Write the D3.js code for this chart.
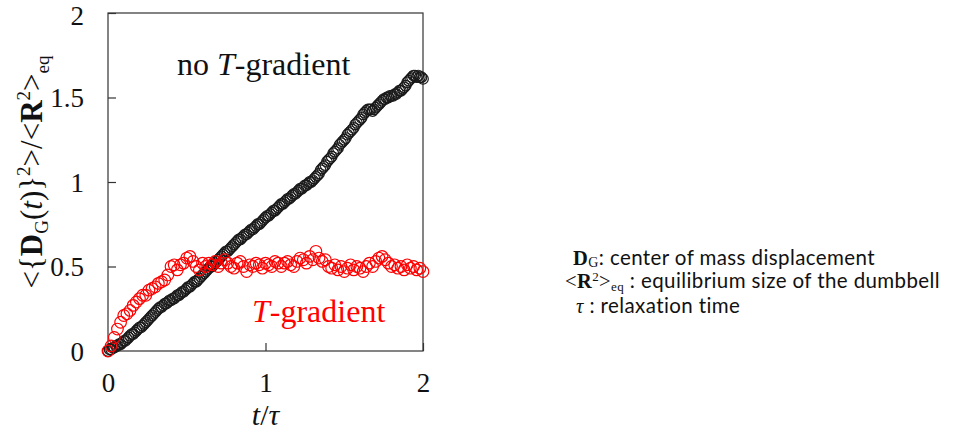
<!DOCTYPE html>
<html>
<head>
<meta charset="utf-8">
<script src="https://cdn.jsdelivr.net/npm/d3@7"></script>
<style>
  body { margin: 0; background: #fff; }
  svg { display: block; }
</style>
</head>
<body>
<svg id="chart"></svg>
<script>
// t/tau sampling: black every 0.01, red every 0.02
const blackStep = 0.01;
const redStep = 0.02;

// no T-gradient, <{DG(t)}^2>/<R^2>eq
const noGradient = [
  0.00, 0.01, 0.01, 0.02, 0.02, 0.03, 0.03, 0.04, 0.04, 0.05,
  0.06, 0.06, 0.07, 0.08, 0.09, 0.10, 0.10, 0.11, 0.12, 0.13,
  0.14, 0.14, 0.15, 0.16, 0.17, 0.18, 0.19, 0.20, 0.21, 0.22,
  0.23, 0.24, 0.25, 0.26, 0.26, 0.27, 0.28, 0.28, 0.29, 0.30,
  0.30, 0.31, 0.31, 0.32, 0.33, 0.33, 0.34, 0.35, 0.35, 0.36,
  0.37, 0.38, 0.38, 0.39, 0.40, 0.41, 0.41, 0.42, 0.43, 0.44,
  0.45, 0.46, 0.47, 0.48, 0.49, 0.50, 0.50, 0.51, 0.52, 0.53,
  0.54, 0.55, 0.56, 0.57, 0.58, 0.59, 0.59, 0.60, 0.61, 0.62,
  0.63, 0.64, 0.65, 0.66, 0.66, 0.67, 0.68, 0.69, 0.69, 0.70,
  0.71, 0.72, 0.72, 0.73, 0.74, 0.75, 0.75, 0.76, 0.77, 0.78,
  0.79, 0.80, 0.80, 0.81, 0.82, 0.83, 0.83, 0.84, 0.85, 0.86,
  0.87, 0.87, 0.88, 0.89, 0.90, 0.90, 0.91, 0.92, 0.93, 0.93,
  0.94, 0.95, 0.96, 0.96, 0.97, 0.98, 0.98, 0.99, 1.00, 1.00,
  1.01, 1.02, 1.03, 1.04, 1.05, 1.07, 1.08, 1.09, 1.10, 1.12,
  1.13, 1.14, 1.15, 1.17, 1.18, 1.19, 1.20, 1.22, 1.23, 1.24,
  1.25, 1.26, 1.28, 1.29, 1.30, 1.31, 1.32, 1.34, 1.35, 1.36,
  1.37, 1.38, 1.40, 1.41, 1.42, 1.43, 1.43, 1.43, 1.42, 1.43,
  1.44, 1.45, 1.46, 1.47, 1.48, 1.49, 1.49, 1.50, 1.50, 1.51,
  1.51, 1.51, 1.52, 1.52, 1.53, 1.54, 1.54, 1.55, 1.56, 1.57,
  1.59, 1.60, 1.61, 1.62, 1.63, 1.63, 1.62, 1.63, 1.62, 1.62,
  1.61
];

// T-gradient
const withGradient = [
  0.00, 0.03, 0.08, 0.13, 0.17, 0.21, 0.22, 0.24, 0.27, 0.29,
  0.31, 0.33, 0.33, 0.36, 0.37, 0.38, 0.40, 0.41, 0.42, 0.45,
  0.50, 0.51, 0.48, 0.51, 0.52, 0.55, 0.56, 0.53, 0.50, 0.48,
  0.52, 0.50, 0.52, 0.51, 0.53, 0.50, 0.52, 0.54, 0.52, 0.50,
  0.49, 0.52, 0.53, 0.50, 0.47, 0.51, 0.50, 0.52, 0.51, 0.49,
  0.52, 0.51, 0.50, 0.53, 0.52, 0.50, 0.52, 0.53, 0.51, 0.50,
  0.53, 0.55, 0.54, 0.52, 0.56, 0.54, 0.59, 0.55, 0.53, 0.54,
  0.50, 0.49, 0.51, 0.48, 0.50, 0.47, 0.49, 0.51, 0.48, 0.50,
  0.49, 0.47, 0.50, 0.52, 0.50, 0.53, 0.55, 0.56, 0.54, 0.52,
  0.50, 0.51, 0.49, 0.50, 0.48, 0.51, 0.49, 0.50, 0.48, 0.49,
  0.47
];

const xTicks = [0, 1, 2];
const yTicks = [0, 0.5, 1, 1.5, 2];

const width = 968, height = 433;
const plotLeft = 108, plotRight = 423, plotTop = 13, plotBottom = 351;
const serif = "'Liberation Serif', 'Times New Roman', serif";
const sans = "Lato, 'Open Sans', sans-serif";

const svg = d3.select("#chart").attr("width", width).attr("height", height);
svg.append("rect").attr("width", width).attr("height", height).attr("fill", "#fff");

const x = d3.scaleLinear().domain([0, 2]).range([plotLeft, plotRight]);
const y = d3.scaleLinear().domain([0, 2]).range([plotBottom, plotTop]);

// frame
svg.append("rect")
  .attr("x", plotLeft).attr("y", plotTop)
  .attr("width", plotRight - plotLeft).attr("height", plotBottom - plotTop)
  .attr("fill", "none").attr("stroke", "#333").attr("stroke-width", 1.2);

// axes with inward ticks
const yAxis = svg.append("g")
  .attr("transform", "translate(" + plotLeft + ",0)")
  .call(d3.axisRight(y).tickValues(yTicks).tickSize(8).tickFormat(d3.format("")));
yAxis.select(".domain").remove();
yAxis.selectAll("line").attr("stroke", "#333").attr("stroke-width", 1.2);
yAxis.selectAll("text")
  .attr("x", -24).attr("dy", d => d === 2 ? "0.42em" : "0.35em")
  .attr("text-anchor", "end")
  .attr("font-family", serif).attr("font-size", 27).attr("fill", "#111");

const xAxis = svg.append("g")
  .attr("transform", "translate(0," + plotBottom + ")")
  .call(d3.axisTop(x).tickValues(xTicks).tickSize(8).tickFormat(d3.format("")));
xAxis.select(".domain").remove();
xAxis.selectAll("line").attr("stroke", "#333").attr("stroke-width", 1.2);
xAxis.selectAll("text")
  .attr("y", 41).attr("dy", 0)
  .attr("font-family", serif).attr("font-size", 27).attr("fill", "#111");

function plotPoints(values, step, color, r) {
  svg.append("g").selectAll("circle")
    .data(values)
    .join("circle")
    .attr("cx", (d, i) => x(i * step))
    .attr("cy", d => y(d))
    .attr("r", r)
    .attr("fill", "none")
    .attr("stroke", color)
    .attr("stroke-width", 1.2);
}
plotPoints(noGradient, blackStep, "#1a1a1a", 5.3);
plotPoints(withGradient, redStep, "#ff0000", 5.8);

// in-plot labels
const lab1 = svg.append("text").attr("x", 177).attr("y", 75)
  .attr("font-family", serif).attr("font-size", 32).attr("fill", "#111");
lab1.append("tspan").text("no ");
lab1.append("tspan").attr("font-style", "italic").text("T");
lab1.append("tspan").text("-gradient");

const lab2 = svg.append("text").attr("x", 252).attr("y", 322)
  .attr("font-family", serif).attr("font-size", 32).attr("fill", "#ff0000");
lab2.append("tspan").attr("font-style", "italic").text("T");
lab2.append("tspan").text("-gradient");

// x label
const xl = svg.append("text").attr("x", x(1)).attr("y", 425)
  .attr("text-anchor", "middle")
  .attr("font-family", serif).attr("font-size", 30).attr("font-style", "italic").attr("fill", "#111");
xl.append("tspan").text("t");
xl.append("tspan").attr("font-style", "normal").text("/");
xl.append("tspan").text("\u03C4");

// y label
const yl = svg.append("text")
  .attr("transform", "translate(42,172) rotate(-90)")
  .attr("text-anchor", "middle")
  .attr("font-family", serif).attr("font-size", 31).attr("fill", "#111");
yl.append("tspan").text("<{");
yl.append("tspan").attr("font-weight", "bold").text("D");
yl.append("tspan").attr("font-size", 19).attr("dy", 6).text("G");
yl.append("tspan").attr("dy", -6).text("(");
yl.append("tspan").attr("font-style", "italic").text("t");
yl.append("tspan").text(")}");
yl.append("tspan").attr("font-size", 19).attr("dy", -12).text("2");
yl.append("tspan").attr("dy", 12).text(">/<");
yl.append("tspan").attr("font-weight", "bold").text("R");
yl.append("tspan").attr("font-size", 19).attr("dy", -12).text("2");
yl.append("tspan").attr("dy", 12).text(">");
yl.append("tspan").attr("font-size", 19).attr("dy", 7).text("eq");

// notes on the right
const noteSize = 20.5;
const n1 = svg.append("text").attr("x", 573).attr("y", 265)
  .attr("font-family", sans).attr("font-size", noteSize).attr("letter-spacing", 0.4).attr("fill", "#111");
n1.append("tspan").attr("font-family", serif).attr("font-weight", "bold").text("D");
n1.append("tspan").attr("font-family", serif).attr("font-size", 14).attr("dy", 2).text("G");
n1.append("tspan").attr("dy", -2).text(": center of mass displacement");

const n2 = svg.append("text").attr("x", 565).attr("y", 288)
  .attr("font-family", sans).attr("font-size", noteSize).attr("letter-spacing", 0.4).attr("fill", "#111");
n2.append("tspan").attr("font-family", serif).text("<");
n2.append("tspan").attr("font-family", serif).attr("font-weight", "bold").text("R");
n2.append("tspan").attr("font-family", serif).attr("font-size", 13).attr("dy", -7).text("2");
n2.append("tspan").attr("font-family", serif).attr("dy", 7).text(">");
n2.append("tspan").attr("font-family", serif).attr("font-size", 13).attr("dy", 3).text("eq");
n2.append("tspan").attr("dy", -3).text(" : equilibrium size of the dumbbell");

const n3 = svg.append("text").attr("x", 576).attr("y", 313)
  .attr("font-family", sans).attr("font-size", noteSize).attr("letter-spacing", 0.4).attr("fill", "#111");
n3.append("tspan").attr("font-family", serif).attr("font-style", "italic").text("\u03C4");
n3.append("tspan").text(" : relaxation time");
</script>
</body>
</html>
